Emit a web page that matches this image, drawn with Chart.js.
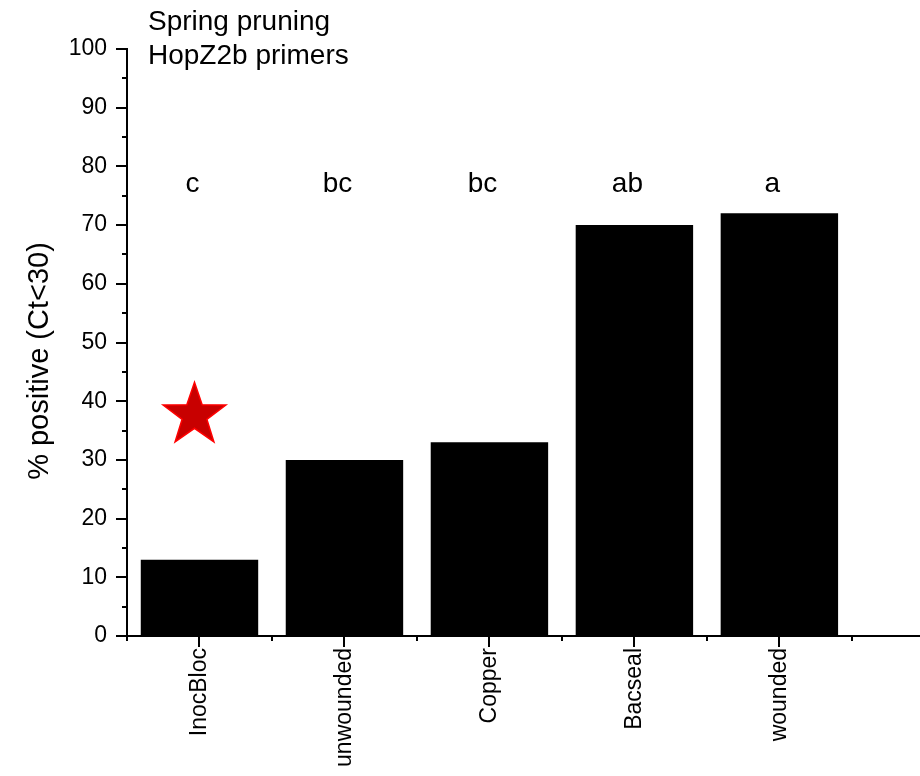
<!DOCTYPE html>
<html>
<head>
<meta charset="utf-8">
<title>Spring pruning - HopZ2b primers</title>
<script src="https://cdn.jsdelivr.net/npm/chart.js@4"></script>
<style>
    html, body { margin: 0; padding: 0; background: #fff; overflow: hidden; }
</style>
</head>
<body>
<canvas id="chart" width="920" height="776"></canvas>
<script>
// Treatments and % of samples with Ct < 30
const treatments = ['InocBloc', 'unwounded', 'Copper', 'Bacseal', 'wounded'];
const percentPositive = [13, 30, 33, 70, 72];
// Significance groups shown above each bar
const groupLetters = ['c', 'bc', 'bc', 'ab', 'a'];
const letterLevel = 77;
const yTicks = [0, 10, 20, 30, 40, 50, 60, 70, 80, 90, 100];
// Star marker above the InocBloc bar
const starMark = { x: 0, y: 37.6 };

const FONT = "'Liberation Sans', Arial, sans-serif";

// Draws the tick marks (major + minor), header text, letters, star and y title
const decorations = {
    id: 'decorations',
    afterDraw(chart) {
        const { ctx, scales: { x, y }, chartArea } = chart;
        ctx.save();
        ctx.strokeStyle = '#000';
        ctx.lineWidth = 2;

        // y ticks every 5, long at multiples of 10
        for (let v = 0; v <= 100; v += 5) {
            const py = Math.round(y.getPixelForValue(v));
            const len = v % 10 === 0 ? 11 : 5;
            ctx.beginPath();
            ctx.moveTo(chartArea.left - len, py);
            ctx.lineTo(chartArea.left, py);
            ctx.stroke();
        }
        // x ticks: long at categories, short between them
        for (let v = -0.5; v <= x.max; v += 0.5) {
            const px = Math.round(x.getPixelForValue(v));
            const len = Number.isInteger(v) ? 11 : 5;
            ctx.beginPath();
            ctx.moveTo(px, chartArea.bottom);
            ctx.lineTo(px, chartArea.bottom + len);
            ctx.stroke();
        }

        ctx.fillStyle = '#000';
        ctx.font = '28px ' + FONT;
        ctx.textAlign = 'left';
        ctx.textBaseline = 'alphabetic';
        ctx.fillText('Spring pruning', 148, 30);
        ctx.fillText('HopZ2b primers', 148, 64);

        // group letters
        ctx.textAlign = 'center';
        ctx.textBaseline = 'middle';
        groupLetters.forEach((letter, i) => {
            ctx.fillText(letter, x.getPixelForValue(i) - 7, y.getPixelForValue(letterLevel));
        });

        // y axis title
        ctx.save();
        ctx.font = '29px ' + FONT;
        ctx.translate(40, 361);
        ctx.rotate(-Math.PI / 2);
        ctx.fillText('% positive (Ct<30)', 0, 0);
        ctx.restore();

        // red star
        const cx = x.getPixelForValue(starMark.x) - 5;
        const cy = y.getPixelForValue(starMark.y);
        const outer = 33, inner = 13;
        ctx.beginPath();
        for (let k = 0; k < 10; k++) {
            const r = k % 2 === 0 ? outer : inner;
            const a = -Math.PI / 2 + k * Math.PI / 5;
            const px = cx + r * Math.cos(a);
            const py = cy + r * Math.sin(a);
            if (k === 0) ctx.moveTo(px, py); else ctx.lineTo(px, py);
        }
        ctx.closePath();
        ctx.fillStyle = '#c80000';
        ctx.fill();
        ctx.strokeStyle = '#ff0000';
        ctx.lineWidth = 1.5;
        ctx.stroke();

        ctx.restore();
    }
};

const ctx = document.getElementById('chart').getContext('2d');
const chart = new Chart(ctx, {
    type: 'bar',
    data: {
        datasets: [{
            data: percentPositive.map((v, i) => ({ x: i, y: v })),
            backgroundColor: '#000',
            borderWidth: 0,
            categoryPercentage: 1,
            barPercentage: 0.81
        }]
    },
    options: {
        responsive: false,
        animation: false,
        layout: { padding: { top: 49, right: 0, bottom: 0, left: 0 } },
        plugins: {
            legend: { display: false },
            tooltip: { enabled: false }
        },
        scales: {
            x: {
                type: 'linear',
                offset: false,
                min: -0.5,
                max: 4.97,
                grid: { display: false },
                border: { display: true, color: '#000', width: 2 },
                afterBuildTicks: (scale) => { scale.ticks = treatments.map((_, i) => ({ value: i })); },
                afterFit: (scale) => { scale.height = 140; },
                ticks: {
                    autoSkip: false,
                    minRotation: 90,
                    maxRotation: 90,
                    padding: 4,
                    color: '#000',
                    font: { family: FONT, size: 23 },
                    callback: (v) => treatments[v] ?? ''
                }
            },
            y: {
                min: 0,
                max: 100,
                grid: { display: false },
                border: { display: true, color: '#000', width: 2 },
                afterBuildTicks: (scale) => { scale.ticks = yTicks.map(v => ({ value: v })); },
                afterFit: (scale) => { scale.width = 127; },
                ticks: {
                    padding: 12,
                    color: '#000',
                    font: { family: FONT, size: 23 }
                }
            }
        }
    },
    plugins: [decorations]
});
</script>
</body>
</html>
